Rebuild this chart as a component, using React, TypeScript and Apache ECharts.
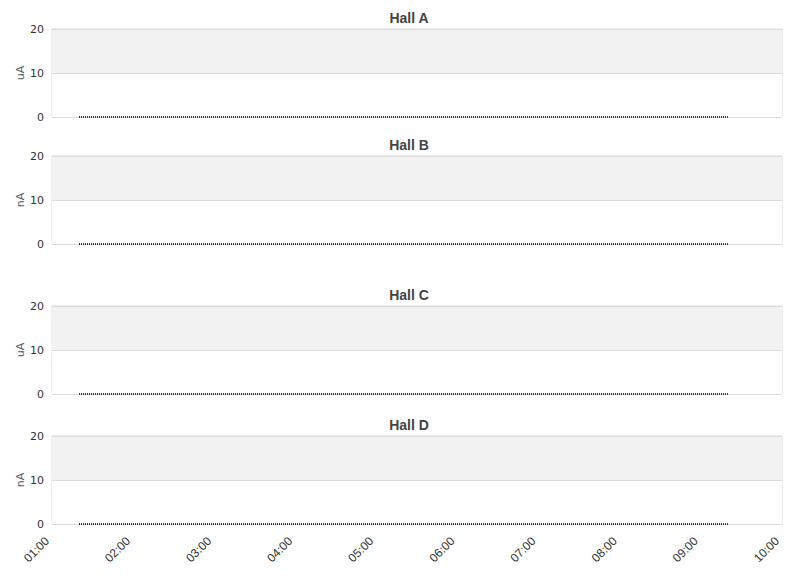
import React, { useEffect, useRef } from "react";
import * as echarts from "echarts";

// Panels
const halls = ["Hall A", "Hall B", "Hall C", "Hall D"];
const units = ["uA", "nA", "uA", "nA"];
// Time axis (hours)
const xMinTime = "01:00";
const xMaxTime = "10:00";
// Each hall's readings: times and values (all zero in the picture)
const readingTimes = ["01:20", "09:20"];
const hallAValues = [0, 0];
const hallBValues = [0, 0];
const hallCValues = [0, 0];
const hallDValues = [0, 0];
const yTicks = [0, 10, 20];

const hallValues = [hallAValues, hallBValues, hallCValues, hallDValues];

const toHours = (s: string) => {
  const [h, m] = s.split(":").map(Number);
  return h + m / 60;
};
const fmt = (v: number) => {
  const h = Math.floor(v + 1e-6);
  const m = Math.round((v - h) * 60);
  return `${String(h).padStart(2, "0")}:${String(m).padStart(2, "0")}`;
};

const gridTops = [29, 156, 306, 436];
const gridHeight = 88;

export default function App() {
  const ref = useRef<HTMLDivElement>(null);
  useEffect(() => {
    if (!ref.current) return;
    const chart = echarts.init(ref.current, undefined, { renderer: "svg" });
    const xMin = toHours(xMinTime);
    const xMax = toHours(xMaxTime);
    const option: any = {
      animation: false,
      backgroundColor: "#fff",
      title: halls.map((h, i) => ({
        text: h,
        left: 404,
        textAlign: "center",
        top: gridTops[i] - 23,
        textStyle: {
          fontFamily: "Liberation Sans, Arial, sans-serif",
          fontWeight: "bold",
          fontSize: 14,
          color: "#444",
        },
      })),
      grid: gridTops.map((t) => ({
        left: 52,
        top: t,
        width: 730,
        height: gridHeight,
        show: true,
        borderColor: "#dcdcdc",
        borderWidth: 1,
        backgroundColor: "transparent",
      })),
      xAxis: halls.map((_, i) => ({
        type: "value",
        gridIndex: i,
        min: xMin,
        max: xMax,
        interval: 1,
        axisLine: { show: false },
        axisTick: { show: false },
        splitLine: { show: false },
        axisLabel: {
          show: i === halls.length - 1,
          rotate: 45,
          formatter: (v: number) => fmt(v),
          fontSize: 12,
          color: "#333",
          margin: 10,
          padding: [0, 7, 0, 0],
          fontFamily: "Liberation Sans, Arial, sans-serif",
        },
      })),
      yAxis: halls.map((_, i) => ({
        type: "value",
        gridIndex: i,
        min: yTicks[0],
        max: yTicks[yTicks.length - 1],
        interval: yTicks[1] - yTicks[0],
        name: units[i],
        nameLocation: "middle",
        nameGap: 26,
        nameRotate: 90,
        nameMoveOverlap: false,
        nameTextStyle: { fontSize: 11, color: "#555", fontFamily: "DejaVu Sans, sans-serif" },
        axisLine: { show: false },
        axisTick: { show: false },
        axisLabel: {
          fontSize: 11,
          color: "#333",
          margin: 8,
          fontFamily: "DejaVu Sans, sans-serif",
        },
        splitLine: { show: true, lineStyle: { color: "#dcdcdc", width: 1 } },
        splitArea: { show: true, areaStyle: { color: ["#ffffff", "#f2f2f2"] } },
      })),
      series: hallValues.map((vals, i) => ({
        type: "line",
        xAxisIndex: i,
        yAxisIndex: i,
        showSymbol: false,
        symbol: "none",
        data: vals.map((v, k) => [toHours(readingTimes[k]), v]),
        lineStyle: { color: "#333", width: 2, type: [1, 1] },
        z: 5,
      })),
    };
    chart.setOption(option);
    return () => chart.dispose();
  }, []);
  return (
    <div
      ref={ref}
      style={{ position: "fixed", left: 0, top: 0, width: 811, height: 578 }}
    />
  );
}
